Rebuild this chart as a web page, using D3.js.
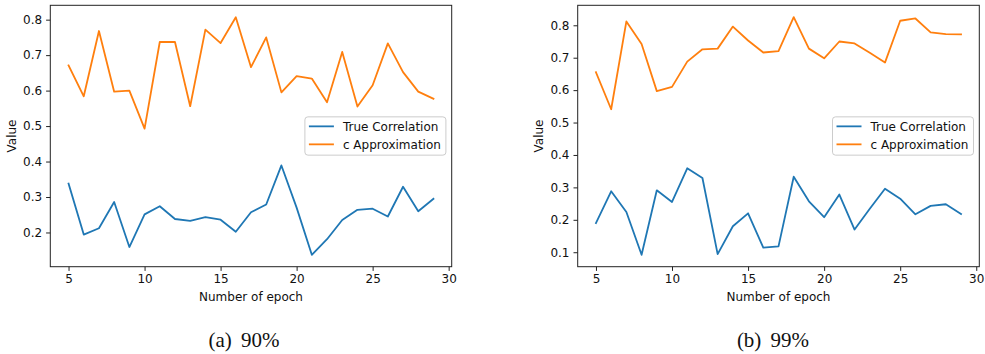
<!DOCTYPE html>
<html>
<head>
<meta charset="utf-8">
<script src="https://cdn.jsdelivr.net/npm/d3@7"></script>
<style>
  html, body { margin: 0; padding: 0; background: #fff; }
  svg { display: block; }
  text { font-family: "DejaVu Sans", sans-serif; fill: #111; }
</style>
</head>
<body>
<svg id="chart" width="985" height="354"></svg>
<script>
// Epochs on the x axis
const epochs = [5, 6, 7, 8, 9, 10, 11, 12, 13, 14, 15, 16, 17, 18, 19, 20, 21, 22, 23, 24, 25, 26, 27, 28, 29];

// (a) 90%
const trueCorr90 = [0.338, 0.194, 0.212, 0.286, 0.159, 0.251, 0.274, 0.238, 0.233, 0.243, 0.236, 0.202, 0.257,
                    0.279, 0.389, 0.270, 0.137, 0.181, 0.235, 0.264, 0.267, 0.245, 0.329, 0.260, 0.295];
const cApprox90  = [0.671, 0.584, 0.768, 0.597, 0.600, 0.493, 0.737, 0.737, 0.556, 0.772, 0.734, 0.807, 0.666,
                    0.750, 0.595, 0.641, 0.634, 0.567, 0.709, 0.555, 0.615, 0.733, 0.652, 0.597, 0.577];

// (b) 99%
const trueCorr99 = [0.190, 0.288, 0.224, 0.092, 0.291, 0.255, 0.359, 0.329, 0.094, 0.180, 0.220, 0.114, 0.118,
                    0.333, 0.257, 0.208, 0.278, 0.170, 0.234, 0.296, 0.265, 0.217, 0.243, 0.248, 0.218];
const cApprox99  = [0.655, 0.541, 0.812, 0.742, 0.597, 0.610, 0.688, 0.726, 0.728, 0.796, 0.753, 0.716, 0.720,
                    0.825, 0.728, 0.698, 0.750, 0.744, 0.715, 0.685, 0.814, 0.821, 0.778, 0.773, 0.772];

const seriesNames = ["True Correlation", "c Approximation"];
const seriesColors = ["#1f77b4", "#ff7f0e"];

const xTicks = [5, 10, 15, 20, 25, 30];
const yTicks90 = [0.2, 0.3, 0.4, 0.5, 0.6, 0.7, 0.8];
const yTicks99 = [0.1, 0.2, 0.3, 0.4, 0.5, 0.6, 0.7, 0.8];

const captions = ["(a) 90%", "(b) 99%"];
const xLabel = "Number of epoch";
const yLabel = "Value";

const svg = d3.select("#chart");
svg.append("rect").attr("width", 985).attr("height", 354).attr("fill", "#fff");

const panels = [
  { left: 50.3, right: 451.7, top: 5.3, bottom: 266.7, yLabelX: 12, captionX: 244,
    series: [trueCorr90, cApprox90], yTicks: yTicks90, caption: captions[0] },
  { left: 577.7, right: 979.3, top: 5.3, bottom: 266.7, yLabelX: 538.5, captionX: 773,
    series: [trueCorr99, cApprox99], yTicks: yTicks99, caption: captions[1] }
];

// Auto-margin of 5% on each side of the data extent
function padded(ext) {
  const r = ext[1] - ext[0];
  return [ext[0] - 0.05 * r, ext[1] + 0.05 * r];
}

panels.forEach(p => {
  const g = svg.append("g");
  const x = d3.scaleLinear().domain(padded(d3.extent(epochs))).range([p.left, p.right]);
  const allVals = p.series.flat();
  const y = d3.scaleLinear().domain(padded(d3.extent(allVals))).range([p.bottom, p.top]);

  // Lines
  const line = d3.line().x((d, i) => x(epochs[i])).y(d => y(d));
  p.series.forEach((s, k) => {
    g.append("path")
      .datum(s)
      .attr("d", line)
      .attr("fill", "none")
      .attr("stroke", seriesColors[k])
      .attr("stroke-width", 1.8)
      .attr("stroke-linejoin", "round")
      .attr("stroke-linecap", "square");
  });

  // Axes
  const xAxis = d3.axisBottom(x).tickValues(xTicks).tickFormat(d3.format("d"))
    .tickSize(4.2).tickSizeOuter(0).tickPadding(4);
  const yAxis = d3.axisLeft(y).tickValues(p.yTicks).tickFormat(d3.format(".1f"))
    .tickSize(4.2).tickSizeOuter(0).tickPadding(4);

  const gx = g.append("g").attr("transform", `translate(0,${p.bottom})`).call(xAxis);
  const gy = g.append("g").attr("transform", `translate(${p.left},0)`).call(yAxis);
  [gx, gy].forEach(ax => {
    ax.select(".domain").remove();
    ax.selectAll(".tick line").attr("stroke", "#222").attr("stroke-width", 1);
    ax.selectAll(".tick text").attr("font-size", 12).attr("fill", "#111")
      .style("font-family", "DejaVu Sans, sans-serif");
  });

  // Frame
  g.append("rect")
    .attr("x", p.left).attr("y", p.top)
    .attr("width", p.right - p.left).attr("height", p.bottom - p.top)
    .attr("fill", "none").attr("stroke", "#222").attr("stroke-width", 1);

  // Axis labels
  g.append("text")
    .attr("x", (p.left + p.right) / 2).attr("y", 300.5)
    .attr("text-anchor", "middle").attr("font-size", 12)
    .text(xLabel);
  g.append("text")
    .attr("transform", `translate(${p.yLabelX},${(p.top + p.bottom) / 2}) rotate(-90)`)
    .attr("text-anchor", "middle").attr("dy", "0.35em").attr("font-size", 12)
    .text(yLabel);

  // Legend (center right)
  const lw = 141, lh = 38.3;
  const lx = p.right - 5.8 - lw, ly = (p.top + p.bottom) / 2 - lh / 2;
  const lg = g.append("g").attr("transform", `translate(${lx},${ly})`);
  lg.append("rect").attr("width", lw).attr("height", lh).attr("rx", 3)
    .attr("fill", "#fff").attr("fill-opacity", 0.8)
    .attr("stroke", "#cccccc").attr("stroke-width", 1);
  seriesNames.forEach((name, k) => {
    const yy = 9.5 + k * 18;
    lg.append("line").attr("x1", 4).attr("x2", 29).attr("y1", yy).attr("y2", yy)
      .attr("stroke", seriesColors[k]).attr("stroke-width", 1.8);
    lg.append("text").attr("x", 38).attr("y", yy).attr("dy", "0.36em")
      .attr("font-size", 12).text(name);
  });

  // Sub-figure caption
  g.append("text")
    .attr("x", p.captionX).attr("y", 346.5)
    .attr("text-anchor", "middle")
    .attr("font-size", 21)
    .attr("word-spacing", 4)
    .style("font-family", "'Liberation Serif', 'DejaVu Serif', serif")
    .text(p.caption);
});
</script>
</body>
</html>
